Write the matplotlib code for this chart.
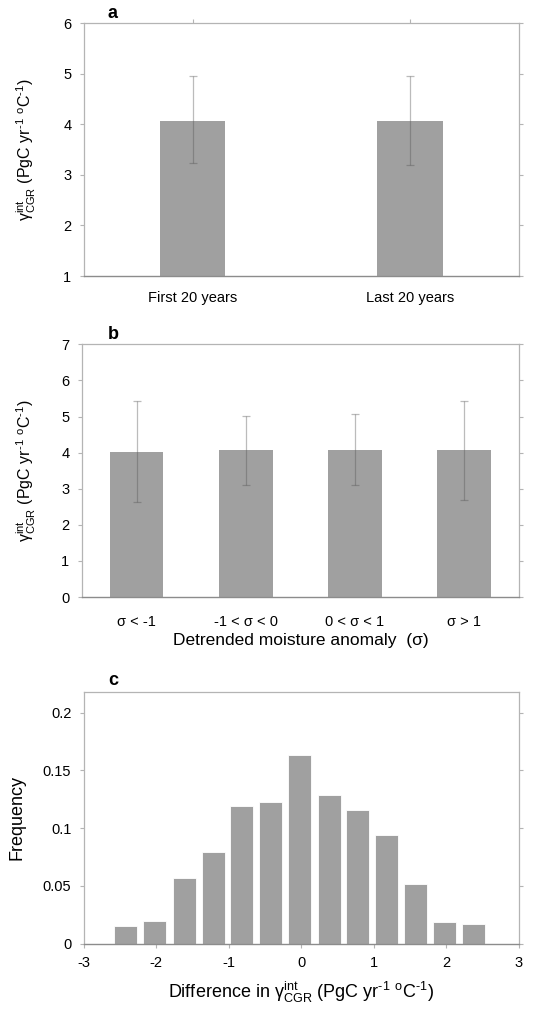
import matplotlib
matplotlib.use('Agg')
import matplotlib.pyplot as plt

plt.rcParams['font.family'] = ['Liberation Sans', 'DejaVu Sans']
plt.rcParams['mathtext.fontset'] = 'custom'
plt.rcParams['mathtext.rm'] = 'Liberation Sans'
plt.rcParams['mathtext.it'] = 'Liberation Sans:italic'
plt.rcParams['mathtext.bf'] = 'Liberation Sans:bold'
plt.rcParams['axes.unicode_minus'] = False

# panel a: first vs last 20 years
a_labels = ['First 20 years', 'Last 20 years']
a_vals = [4.06, 4.06]
a_low = [3.23, 3.19]
a_high = [4.96, 4.96]

# panel b: moisture anomaly classes
b_labels = ['σ < -1', '-1 < σ < 0', '0 < σ < 1', 'σ > 1']
b_vals = [4.01, 4.06, 4.06, 4.06]
b_low = [2.62, 3.11, 3.11, 2.68]
b_high = [5.42, 5.02, 5.08, 5.42]

# panel c: histogram of differences
c_centers = [-2.42, -2.02, -1.61, -1.21, -0.82, -0.42, -0.02, 0.39, 0.78, 1.18, 1.57, 1.98, 2.38]
c_freq = [0.015, 0.020, 0.057, 0.079, 0.1195, 0.1227, 0.163, 0.129, 0.116, 0.0944, 0.052, 0.0185, 0.0167]

unit = r' (PgC yr$^{\text{-1}}$ $^{\text{o}}$C$^{\text{-1}}$)'
gamma = r'$\mathrm{γ^{int}_{CGR}}$'
bar_col = '#a0a0a0'
frame_col = '#b4b4b4'
axis_col = '#8c8c8c'

fig = plt.figure(figsize=(5.34, 10.14), dpi=100)


def style(ax):
    for s in ['left', 'top', 'right']:
        ax.spines[s].set_color(frame_col)
        ax.spines[s].set_linewidth(0.9)
    ax.spines['bottom'].set_color(axis_col)
    ax.spines['bottom'].set_linewidth(1.0)
    ax.tick_params(axis='both', colors=frame_col, labelcolor='black', labelsize=10.5,
                   length=3, width=0.8, direction='out')
    ax.tick_params(axis='y', right=True, pad=6)


def errbars(ax, x, vals, low, high):
    lo = [v - l for v, l in zip(vals, low)]
    hi = [h - v for v, h in zip(vals, high)]
    ax.errorbar(x, vals, yerr=[lo, hi], fmt='none', ecolor='#555555', alpha=0.4,
                elinewidth=0.9, capsize=3, capthick=0.9, zorder=3)


# a
ax1 = fig.add_axes([0.157, 0.7278, 0.8146, 0.2492])
xa = list(range(len(a_labels)))
ax1.bar(xa, a_vals, width=0.3, bottom=0, color=bar_col, zorder=2)
errbars(ax1, xa, a_vals, a_low, a_high)
ax1.set_xlim(-0.5, 1.5)
ax1.set_ylim(1, 6)
ax1.set_yticks([1, 2, 3, 4, 5, 6])
ax1.set_xticks(xa)
ax1.set_xticklabels(a_labels)
style(ax1)
ax1.tick_params(axis='x', top=True, bottom=False, pad=8)
ax1.set_ylabel(gamma + unit, fontsize=11.5)
ax1.yaxis.set_label_coords(-0.105, 0.5)
ax1.text(0.055, 1.005, 'a', transform=ax1.transAxes, fontsize=13, fontweight='bold',
         va='bottom')

# b
ax2 = fig.add_axes([0.1535, 0.4112, 0.8181, 0.2492])
xb = list(range(len(b_labels)))
ax2.bar(xb, b_vals, width=0.49, color=bar_col, zorder=2)
errbars(ax2, xb, b_vals, b_low, b_high)
ax2.set_xlim(-0.5, 3.5)
ax2.set_ylim(0, 7)
ax2.set_yticks(range(0, 8))
ax2.set_xticks(xb)
ax2.set_xticklabels(b_labels)
style(ax2)
ax2.tick_params(axis='x', bottom=False, pad=10)
ax2.set_ylabel(gamma + unit, fontsize=11.5)
ax2.yaxis.set_label_coords(-0.101, 0.5)
ax2.set_xlabel('Detrended moisture anomaly  (σ)', fontsize=12.5, labelpad=3)
ax2.text(0.059, 1.005, 'b', transform=ax2.transAxes, fontsize=13, fontweight='bold',
         va='bottom')

# c
ax3 = fig.add_axes([0.157, 0.0693, 0.8146, 0.2485])
ax3.bar(c_centers, c_freq, width=0.32, color=bar_col, edgecolor='white',
        linewidth=0.6, zorder=2)
ax3.set_xlim(-3, 3)
ax3.set_ylim(0, 0.218)
ax3.set_xticks(range(-3, 4))
ax3.set_yticks([0, 0.05, 0.1, 0.15, 0.2])
ax3.set_yticklabels(['0', '0.05', '0.1', '0.15', '0.2'])
style(ax3)
ax3.tick_params(axis='x', pad=6)
ax3.set_ylabel('Frequency', fontsize=13)
ax3.yaxis.set_label_coords(-0.135, 0.5)
ax3.set_xlabel('Difference in ' + gamma + unit, fontsize=13, labelpad=7)
ax3.text(0.055, 1.01, 'c', transform=ax3.transAxes, fontsize=13, fontweight='bold',
         va='bottom')

fig.savefig('out.png', dpi=100)
